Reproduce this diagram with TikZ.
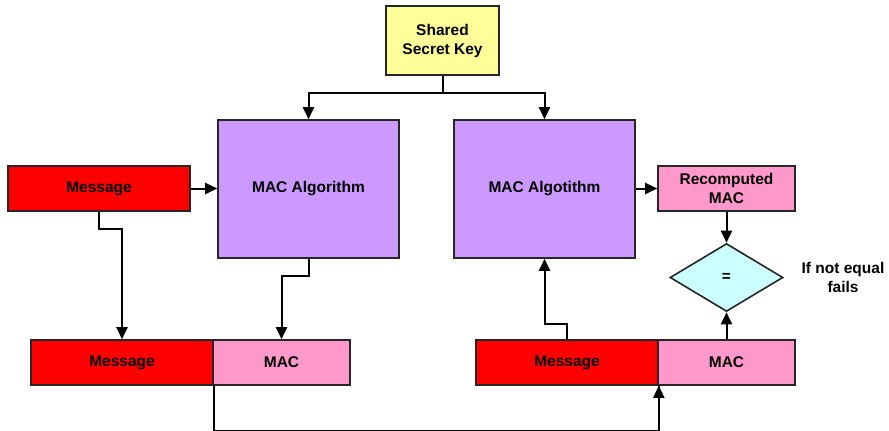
\documentclass[tikz,border=0pt]{standalone}
\usepackage{fontspec}
\setmainfont{Liberation Sans}
\usetikzlibrary{arrows.meta,shapes.geometric}

\definecolor{keyyellow}{HTML}{FFFF99}
\definecolor{algpurple}{HTML}{CC99FF}
\definecolor{macpink}{HTML}{FF99CC}
\definecolor{msgred}{HTML}{FF0000}
\definecolor{eqcyan}{HTML}{CCFFFF}

\tikzset{
    block/.style={draw=black!85,line width=1.6pt,inner sep=0pt,align=center,
        font=\fontsize{15.5}{19}\selectfont\bfseries,text=black},
    msgbox/.style={block,fill=msgred,minimum width=182pt,minimum height=45pt},
    macbox/.style={block,fill=macpink,minimum width=137pt,minimum height=45pt},
    algbox/.style={block,fill=algpurple,minimum width=181pt,minimum height=138pt},
    arr/.style={line width=2pt,-{Triangle[length=12pt,width=11pt]}},
    wire/.style={line width=2pt}
}

\begin{document}
\begin{tikzpicture}[x=1pt,y=-1pt]
    \useasboundingbox (0,0) rectangle (889,431);

    % key and the two algorithm boxes
    \node[block,fill=keyyellow,minimum width=113pt,minimum height=69pt] (key) at (442.5,40.5) {Shared\\Secret Key};
    \node[algbox] (algL) at (308.5,189) {MAC Algorithm};
    \node[algbox] (algR) at (544.5,189) {MAC Algotithm};

    % sender side
    \node[msgbox] (msgT) at (99,188.5) {Message};
    \node[msgbox] (msgL) at (122,362.5) {Message};
    \node[macbox] (macL) at (281.5,362.5) {MAC};

    % receiver side
    \node[macbox] (recmac) at (726.5,188.5) {Recomputed\\MAC};
    \node[diamond,block,fill=eqcyan,minimum width=113pt,minimum height=68pt,aspect=1.66] (eq) at (726.5,277.5) {=};
    \node[block,draw=none,fill=none] (fails) at (843,277) {If not equal\\fails};
    \node[msgbox] (msgR) at (567,362.5) {Message};
    \node[macbox] (macR) at (726.5,362.5) {MAC};

    % connectors
    \draw[arr] (key.south) -- ++(0,17) -| (algL.north);
    \draw[arr] (key.south) -- ++(0,17) -| (algR.north);
    \draw[arr] (msgT.east) -- (algL.west |- msgT.east);
    \draw[arr] (msgT.south) -- ++(0,17) -| (msgL.north);
    \draw[arr] (algL.south) -- ++(0,17) -| (macL.north);
    \draw[arr] (algR.east |- recmac.west) -- (recmac.west);
    \draw[arr] (recmac.south) -- (eq.north);
    \draw[arr] (macR.north) -- (eq.south);
    \draw[arr] (msgR.north) -- ++(0,-15) -| (algR.south);
    \draw[wire] (msgL.south east) -- ++(0,45) -| (msgR.south east);
    \draw[arr] (msgR.south east) ++(0,45) -- (msgR.south east);
\end{tikzpicture}
\end{document}
